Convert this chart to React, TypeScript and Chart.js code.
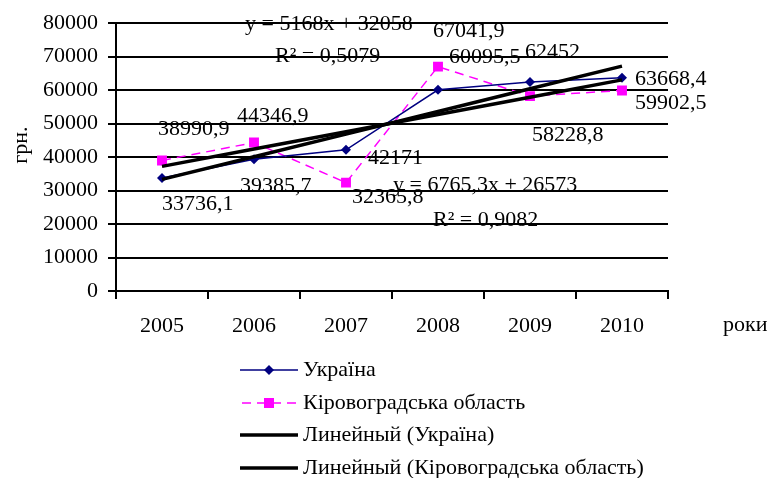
import React, { useEffect, useRef } from 'react';
import { Chart, registerables } from 'chart.js';

Chart.register(...registerables);

const FONT = '"Liberation Serif", "Times New Roman", serif';

const years = ['2005', '2006', '2007', '2008', '2009', '2010'];
const ukraine = [33736.1, 39385.7, 42171, 60095.5, 62452, 63668.4];
const kirovohrad = [38990.9, 44346.9, 32365.8, 67041.9, 58228.8, 59902.5];
const yTicks = [0, 10000, 20000, 30000, 40000, 50000, 60000, 70000, 80000];

// Trend equations as displayed on the chart
const ukraineSlope = 6765.3;
const ukraineIntercept = 26573;
const ukraineR2 = '0,9082';
const kirovSlope = 5168;
const kirovIntercept = 32058;
const kirovR2 = '0,5079';

const seriesNames = [
  'Україна',
  'Кіровоградська область',
  'Линейный (Україна)',
  'Линейный (Кіровоградська область)',
];

const ukraineTrend = years.map((_, i) => ukraineSlope * (i + 1) + ukraineIntercept);
const kirovTrend = years.map((_, i) => kirovSlope * (i + 1) + kirovIntercept);

// label offsets relative to the points (style)
const ukraineLabelOffsets: [number, number][] = [
  [0, 26], [-14, 27], [22, 8], [11, -33], [-5, -30], [13, 1],
];
const kirovLabelOffsets: [number, number][] = [
  [-4, -31], [-17, -26], [6, 15], [-5, -35], [2, 39], [13, 13],
];

const fmt = (v: number) => String(v).replace('.', ',');
const fmtEq = (s: number, b: number) => `y = ${fmt(s)}x + ${fmt(b)}`;

const overlay = {
  id: 'overlay',
  afterDraw(chart: any) {
    const ctx = chart.ctx as CanvasRenderingContext2D;
    const xs = chart.scales.x;
    const ys = chart.scales.y;
    const area = chart.chartArea;
    ctx.save();
    ctx.font = `22px ${FONT}`;
    ctx.fillStyle = '#000';
    ctx.textBaseline = 'middle';
    ctx.textAlign = 'left';

    ukraine.forEach((v, i) => {
      const [dx, dy] = ukraineLabelOffsets[i];
      ctx.fillText(fmt(v), xs.getPixelForValue(i) + dx, ys.getPixelForValue(v) + dy);
    });
    kirovohrad.forEach((v, i) => {
      const [dx, dy] = kirovLabelOffsets[i];
      ctx.fillText(fmt(v), xs.getPixelForValue(i) + dx, ys.getPixelForValue(v) + dy);
    });

    // trend equations
    ctx.fillText(fmtEq(kirovSlope, kirovIntercept), area.left + 129, area.top + 1);
    ctx.fillText(`R² = ${kirovR2}`, area.left + 159, area.top + 33);
    ctx.fillText(fmtEq(ukraineSlope, ukraineIntercept), area.left + 277, area.top + 162);
    ctx.fillText(`R² = ${ukraineR2}`, area.left + 317, area.top + 197);

    // axis titles
    ctx.fillText('роки', area.right + 55, area.bottom + 34);
    ctx.save();
    ctx.translate(21, (area.top + area.bottom) / 2 - 12);
    ctx.rotate(-Math.PI / 2);
    ctx.textAlign = 'center';
    ctx.fillText('грн.', 0, 0);
    ctx.restore();

    // legend
    const lx0 = 240;
    const lx1 = 298;
    const lmid = (lx0 + lx1) / 2;
    const rows = [370, 403, 435, 468];
    rows.forEach((ry, i) => {
      ctx.save();
      ctx.beginPath();
      if (i === 0) {
        ctx.strokeStyle = '#000080';
        ctx.lineWidth = 1.5;
        ctx.moveTo(lx0, ry);
        ctx.lineTo(lx1, ry);
        ctx.stroke();
        ctx.fillStyle = '#000080';
        ctx.beginPath();
        ctx.moveTo(lmid, ry - 5);
        ctx.lineTo(lmid + 5, ry);
        ctx.lineTo(lmid, ry + 5);
        ctx.lineTo(lmid - 5, ry);
        ctx.closePath();
        ctx.fill();
      } else if (i === 1) {
        ctx.strokeStyle = '#FF00FF';
        ctx.lineWidth = 1.5;
        ctx.setLineDash([9, 6]);
        ctx.moveTo(lx0 + 2, ry);
        ctx.lineTo(lx1, ry);
        ctx.stroke();
        ctx.setLineDash([]);
        ctx.fillStyle = '#FF00FF';
        ctx.fillRect(lmid - 5, ry - 5, 10, 10);
      } else {
        ctx.strokeStyle = '#000';
        ctx.lineWidth = 3.5;
        ctx.moveTo(lx0, ry);
        ctx.lineTo(lx1, ry);
        ctx.stroke();
      }
      ctx.restore();
      ctx.fillText(seriesNames[i], 303, ry);
    });

    ctx.restore();
  },
};

export default function App() {
  const ref = useRef<HTMLCanvasElement | null>(null);
  useEffect(() => {
    if (!ref.current) return;
    const tickFont = { family: FONT, size: 22 };
    const chart = new Chart(ref.current, {
      type: 'line',
      data: {
        labels: years,
        datasets: [
          {
            label: seriesNames[2],
            data: ukraineTrend,
            borderColor: '#000',
            borderWidth: 3.5,
            pointRadius: 0,
            tension: 0,
            order: 0,
          },
          {
            label: seriesNames[3],
            data: kirovTrend,
            borderColor: '#000',
            borderWidth: 3.5,
            pointRadius: 0,
            tension: 0,
            order: 0,
          },
          {
            label: seriesNames[0],
            data: ukraine,
            borderColor: '#000080',
            backgroundColor: '#000080',
            borderWidth: 1.5,
            pointStyle: 'rectRot',
            pointRadius: 5,
            pointBorderWidth: 0,
            tension: 0,
            order: 1,
          },
          {
            label: seriesNames[1],
            data: kirovohrad,
            borderColor: '#FF00FF',
            backgroundColor: '#FF00FF',
            borderWidth: 1.5,
            borderDash: [9, 6],
            pointStyle: 'rect',
            pointRadius: 7,
            pointBorderWidth: 0,
            tension: 0,
            order: 2,
          },
        ],
      } as any,
      options: {
        responsive: false,
        animation: false,
        layout: { padding: { left: 0, top: 21, right: 106, bottom: 127 } },
        plugins: { legend: { display: false }, tooltip: { enabled: false }, title: { display: false } },
        scales: {
          x: {
            type: 'category',
            offset: true,
            grid: {
              display: true,
              drawOnChartArea: false,
              drawTicks: true,
              tickLength: 8,
              offset: true,
              color: '#000',
              lineWidth: 2,
            },
            border: { display: true, color: '#000', width: 2 },
            ticks: { color: '#000', font: tickFont, padding: 14, maxRotation: 0, autoSkip: false },
            afterFit(s: any) {
              s.height = 60;
            },
          },
          y: {
            min: yTicks[0],
            max: yTicks[yTicks.length - 1],
            afterBuildTicks(s: any) {
              s.ticks = yTicks.map((v) => ({ value: v }));
            },
            ticks: {
              color: '#000',
              font: tickFont,
              padding: 10,
              callback: (v: any) => String(v),
            },
            grid: { color: '#000', lineWidth: 2, tickLength: 8 },
            border: { color: '#000', width: 2 },
            afterFit(s: any) {
              s.width = 116;
            },
          },
        },
      } as any,
      plugins: [overlay],
    });
    return () => chart.destroy();
  }, []);
  return (
    <div style={{ position: 'fixed', left: 0, top: 0, width: 774, height: 478, background: '#fff' }}>
      <canvas ref={ref} width={774} height={478} />
    </div>
  );
}
